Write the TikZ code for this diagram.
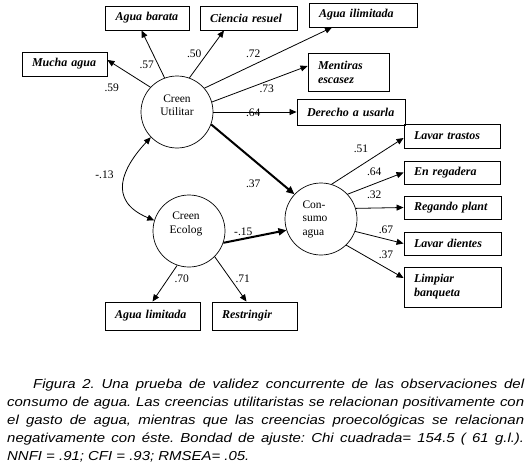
\documentclass[tikz,border=0pt]{standalone}
\usepackage{fontspec}
\setmainfont{Liberation Serif}
\newfontfamily\capfont[FakeStretch=1.15]{Liberation Sans}
\usetikzlibrary{arrows.meta}
\begin{document}
\begin{tikzpicture}[x=1pt,y=-1pt,
 box/.style={draw,line width=0.9pt,font=\fontsize{12}{14}\selectfont\bfseries\itshape,align=left,inner xsep=10pt,inner ysep=0pt,minimum height=24pt},
 lat/.style={draw,circle,line width=0.7pt,minimum size=72pt,inner sep=0pt},
 ltext/.style={font=\fontsize{11.5}{13.5}\selectfont,align=center,inner sep=0pt},
 lab/.style={font=\fontsize{11.5}{13}\selectfont,inner sep=0pt},
 arr/.style={line width=0.8pt,-{Triangle[length=7pt,width=6pt]}},
 boldarr/.style={line width=2pt,-{Triangle[length=8pt,width=7pt]}},
 dblarr/.style={line width=0.8pt,{Triangle[length=7pt,width=6pt]}-{Triangle[length=7pt,width=6pt]}}
]
\useasboundingbox[fill=white] (0,0) rectangle (531,466);

% boxes
\node[box,text width=65pt] (mucha) at (64.5,64) {Mucha agua};
\node[box,text width=64pt] (barata) at (147.5,18) {Agua barata};
\node[box,text width=77pt] (ciencia) at (248.5,18) {Ciencia resuel};
\node[box,text width=88pt] (ilim) at (363,15) {Agua ilimitada};
\node[box,text width=61pt,minimum height=38pt] (ment) at (348.5,72) {Mentiras\\escasez};
\node[box,text width=88pt,minimum height=26pt] (derecho) at (351,112) {Derecho a usarla};
\node[box,text width=76pt] (trastos) at (452,136) {Lavar trastos};
\node[box,text width=76pt,minimum height=23pt] (regadera) at (452,172.5) {En regadera};
\node[box,text width=77pt,minimum height=23pt] (regando) at (452.5,207.5) {Regando plant};
\node[box,text width=77pt,minimum height=23pt] (dientes) at (452.5,243.5) {Lavar dientes};
\node[box,text width=77pt,minimum height=40pt] (banq) at (452.5,287) {Limpiar\\banqueta};
\node[box,text width=75pt,minimum height=28pt] (limit) at (152.5,316) {Agua limitada};
\node[box,text width=65pt,minimum height=28pt] (restr) at (254.5,316) {Restringir};

% latent variables
\node[lat] (util) at (177,112) {};
\node[ltext] (utilT) at (177,105) {Creen\\Utilitar};
\node[lat] (cons) at (321,219) {};
\node[ltext,align=left] (consT) at (315,219) {Con-\\sumo\\agua};
\node[lat] (eco) at (189,231) {};
\node[ltext] (ecoT) at (186,224) {Creen\\Ecolog};

% arrows
\draw[arr] (util.137) -- ([yshift=4pt]mucha.east);
\draw[arr] (util.110) -- ([xshift=-6pt]barata.south);
\draw[arr] (util.70) -- ([xshift=-24.5pt]ciencia.south);
\draw[arr] (util.41.5) -- ([xshift=-31pt]ilim.south);
\draw[arr] (util.16) -- ([yshift=6pt]ment.west);
\draw[arr] (util.east) -- (derecho.west);
\draw[boldarr] (util.-20) -- (cons.137);
\draw[boldarr] (eco.-19) -- (cons.198);
\draw[dblarr] (util.224) .. controls +(-28,30) and +(-48,-20) .. (eco.163);
\draw[arr] (eco.251) -- (limit.north);
\draw[arr] (eco.315) -- ([xshift=-8pt]restr.north);
\draw[arr] (cons.73) -- ([yshift=-2pt]trastos.west);
\draw[arr] (cons.43) -- (regadera.west);
\draw[arr] (cons.17) -- (regando.west);
\draw[arr] (cons.-20) -- (dientes.west);
\draw[arr] (cons.-46) -- ([yshift=9pt]banq.west);

% labels
\node[lab] (l59) at (111.7,87.3) {.59};
\node[lab] (l57) at (146.7,65) {.57};
\node[lab] (l50) at (194.3,53.3) {.50};
\node[lab] (l72) at (253.3,53.3) {.72};
\node[lab] (l73) at (266.7,88.3) {.73};
\node[lab] (l64a) at (253.3,112.7) {.64};
\node[lab] (l37a) at (253.3,183.3) {.37};
\node[lab] (l13) at (104.5,175) {-.13};
\node[lab] (l15) at (243.3,231.7) {-.15};
\node[lab] (l70) at (181.7,278.3) {.70};
\node[lab] (l71) at (242.7,278.3) {.71};
\node[lab] (l51) at (361,148.3) {.51};
\node[lab] (l64b) at (374.3,171.7) {.64};
\node[lab] (l32) at (374.3,195) {.32};
\node[lab] (l67) at (386,230) {.67};
\node[lab] (l37b) at (386,255) {.37};

% caption
\node[anchor=north west,inner sep=0pt,text width=517pt,align=justify,
  font=\capfont\itshape\fontsize{13}{18}\selectfont\frenchspacing] (cap) at (7,378.5)
 {\hspace*{26pt}Figura 2. Una prueba de validez concurrente de las observaciones del\linebreak
 consumo de agua. Las creencias utilitaristas se relacionan positivamente con\linebreak
 el gasto de agua, mientras que las creencias proecológicas se relacionan\linebreak
 negativamente con éste. Bondad de ajuste: Chi cuadrada= 154.5 ( 61 g.l.).\linebreak
 NNFI = .91; CFI = .93; RMSEA= .05.};
\end{tikzpicture}
\end{document}
